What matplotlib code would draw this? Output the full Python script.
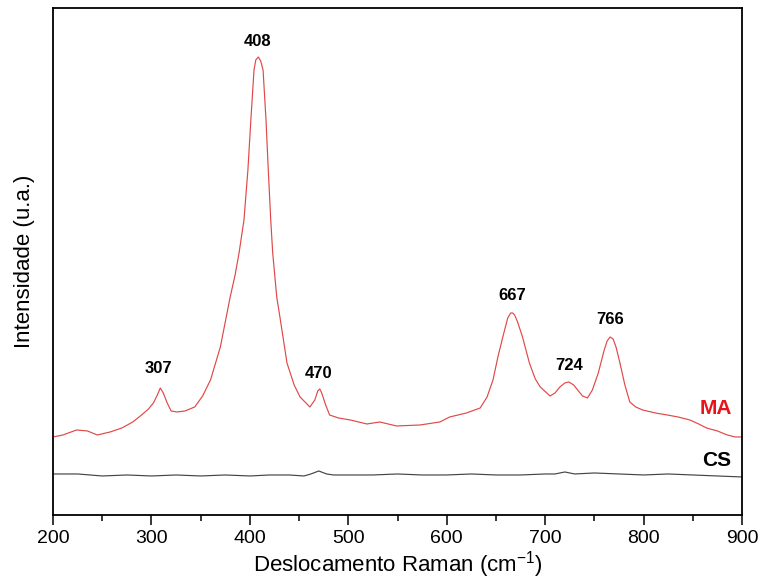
import matplotlib
matplotlib.use("Agg")
import matplotlib.pyplot as plt
from matplotlib.ticker import MultipleLocator

plt.rcParams['font.family'] = ['Liberation Sans', 'DejaVu Sans']
plt.rcParams['mathtext.fontset'] = 'custom'
plt.rcParams['mathtext.rm'] = 'Liberation Sans'
plt.rcParams['mathtext.default'] = 'regular'

# MA spectrum (Raman shift, intensity a.u.)
ma_shift = [200, 210, 224, 235, 245, 258, 270, 281, 290, 297, 302, 306, 309, 312,
            316, 320, 326, 334, 344, 352, 360, 370, 380, 385, 389, 394, 398, 401,
            404.2, 406, 408.6, 411, 413.4, 416.4, 418.7, 421.2, 423.2, 427.3, 431,
            437.7, 445, 451, 457, 461, 466, 469, 471, 473, 477, 481, 490, 502, 519,
            532, 549, 573, 593, 603, 620, 634, 641, 647, 652, 657, 662, 665, 667,
            669, 672, 677, 684, 690, 695, 705, 710, 715, 720, 724, 729, 733, 738,
            743, 748, 754, 760, 763, 766, 769, 772, 776, 781, 786, 792, 799, 812,
            824, 835, 847, 856, 864, 875, 885, 893, 900]
ma_int = [78, 80, 85, 84, 80, 83, 87, 93, 100, 106, 112, 120, 127, 122,
          112, 104, 103, 104, 108, 119, 135, 168, 218, 240, 262, 295, 345, 395,
          445, 455, 458, 454, 445, 395, 345, 295, 262, 218, 195,
          152, 130, 118, 112, 108, 115, 124, 126, 122, 110, 100, 97, 95, 91,
          93, 89, 90, 93, 98, 102, 107, 118, 135, 158, 178, 197, 202, 202,
          200, 193, 178, 152, 136, 128, 119, 122, 128, 132, 133, 130, 125, 119,
          117, 125, 142, 165, 174, 178, 176, 168, 152, 130, 113, 108, 105, 102,
          100, 98, 95, 91, 87, 84, 80, 78, 78]

# CS spectrum
cs_shift = [200, 225, 250, 275, 300, 325, 350, 375, 400, 420, 440, 455, 462, 470,
            478, 485, 500, 525, 550, 575, 600, 625, 650, 675, 700, 710, 720, 730,
            750, 775, 800, 825, 850, 875, 900]
cs_int = [41, 41, 39, 40, 39, 40, 39, 40, 39, 40, 40, 39, 41, 44,
          41, 40, 40, 40, 41, 40, 40, 41, 40, 40, 41, 41, 43, 41,
          42, 41, 40, 41, 40, 39, 38]

peak_pos = [307, 408, 470, 667, 724, 766]
peak_lbl = ["307", "408", "470", "667", "724", "766"]
peak_lbl_y = [146, 473, 141, 219, 149, 195]

fig = plt.figure(figsize=(7.64, 5.87), dpi=100)
ax = fig.add_axes([0.0694, 0.1227, 0.9018, 0.8637])

ax.plot(ma_shift, ma_int, color='#e04848', lw=0.85)
ax.plot(cs_shift, cs_int, color='#444444', lw=0.85)

for xp, lb, yp in zip(peak_pos, peak_lbl, peak_lbl_y):
    ax.text(xp, yp, lb, ha='center', va='center', fontsize=12, fontweight='bold')

ax.text(0.985, 0.21, "MA", transform=ax.transAxes, ha='right', va='center',
        fontsize=15, fontweight='bold', color='#e8141c')
ax.text(0.985, 0.108, "CS", transform=ax.transAxes, ha='right', va='center',
        fontsize=15, fontweight='bold', color='black')

ax.set_xlim(200, 900)
ax.set_ylim(0, 507)
ax.xaxis.set_major_locator(MultipleLocator(100))
ax.xaxis.set_minor_locator(MultipleLocator(50))
ax.set_yticks([])
ax.tick_params(axis='x', which='major', direction='out', length=7, width=1.1,
               labelsize=14, pad=4)
ax.tick_params(axis='x', which='minor', direction='out', length=4, width=1.1)
for s in ax.spines.values():
    s.set_linewidth(1.3)

ax.set_xlabel("Deslocamento Raman (cm$^{\\mathregular{-1}}$)", fontsize=16, labelpad=1)
ax.set_ylabel("Intensidade (u.a.)", fontsize=16, labelpad=13)

fig.savefig("out.png", dpi=100)
